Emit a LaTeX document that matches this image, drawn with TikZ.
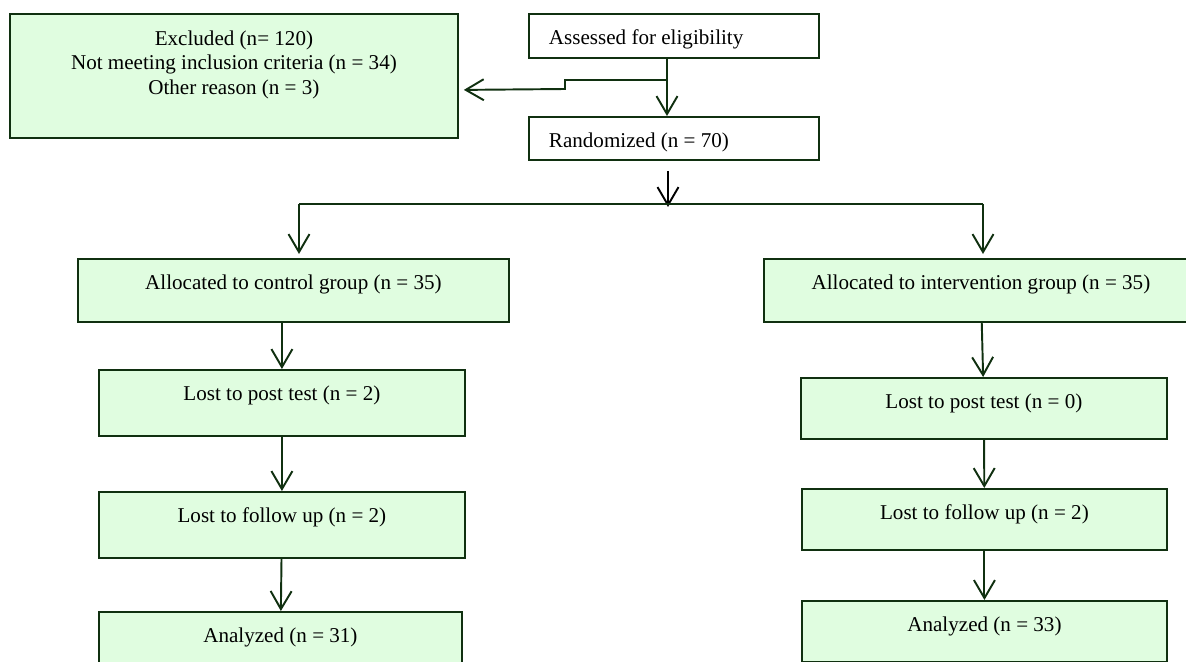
\documentclass[tikz,border=0pt]{standalone}
\usepackage{fontspec}
\setmainfont{Liberation Serif}
\usetikzlibrary{arrows.meta,calc}
\definecolor{FlowGreenPale}{RGB}{224,253,224}
\definecolor{FlowGreenDark}{RGB}{16,48,16}
\tikzset{
  caixa/.style={draw=FlowGreenDark, line width=1.1pt, inner ysep=0pt, text height=0.62cm,
                anchor=north west, font=\fontsize{12}{14}\selectfont},
  caixaverde/.style={caixa, fill=FlowGreenPale, align=center},
  caixabranca/.style={caixa, fill=white, align=flush left, text width=5.0cm, inner xsep=0.4cm,
                text depth=0.26cm},
  seta/.style={-{Straight Barb[length=3.6mm, width=4.2mm]}, line width=1.1pt, FlowGreenDark},
  setapreta/.style={seta, black},
  linha/.style={line width=0.8pt, FlowGreenDark},
}

\begin{document}
\begin{tikzpicture}[x=0.02cm, y=-0.02cm]
  \useasboundingbox (0,0) rectangle (1186,662);
  \clip (0,0) rectangle (1186,662);

  % ------------------------------------------------------------------ topo
  % tres linhas: a altura conta ate a ultima linha base
  \node[caixaverde, minimum width=8.96cm, text height=1.61cm, text depth=0.87cm] (excl) at (9,13)
    {Excluded (n= 120)\\Not meeting inclusion criteria (n = 34)\\Other reason (n = 3)};
  \node[caixabranca] (assess) at (528,13) {Assessed for eligibility};
  \node[caixabranca, text depth=0.24cm] (rand) at (528,116) {Randomized (n = 70)};
  \coordinate (split) at (667,80);
  \coordinate (fork) at (668,204);
  \coordinate (forkL) at (299,204);
  \coordinate (forkR) at (983,204);

  % ------------------------------------------------------------------ grupos
  \node[caixaverde, minimum width=8.62cm, text depth=0.64cm] (ctrl) at (77,258)
    {Allocated to control group (n = 35)};
  \node[caixaverde, minimum width=8.68cm, text depth=0.64cm] (intv) at (763,258)
    {Allocated to intervention group (n = 35)};

  \node[caixaverde, minimum width=7.32cm, text depth=0.70cm] (lostL) at (98,369)
    {Lost to post test (n = 2)};
  \node[caixaverde, minimum width=7.32cm, text depth=0.70cm] (followL) at (98,491)
    {Lost to follow up (n = 2)};
  \node[caixaverde, minimum width=7.26cm, text depth=0.70cm] (analL) at (98,611)
    {Analyzed (n = 31)};

  \node[caixaverde, minimum width=7.32cm, text depth=0.60cm] (lostR) at (800,377)
    {Lost to post test (n = 0)};
  \node[caixaverde, minimum width=7.30cm, text depth=0.60cm] (followR) at (801,488)
    {Lost to follow up (n = 2)};
  \node[caixaverde, minimum width=7.30cm, text depth=0.60cm] (analR) at (801,600)
    {Analyzed (n = 33)};

  % ------------------------------------------------------------------ setas
  \draw[seta] (assess.south -| split) -- (rand.north -| split);
  \draw[seta, shorten >=0.1cm] (split) -- ++(-102,0) -- ++(0,9) -- ($(excl.east)+(0,14)$);
  \draw[setapreta] ($(rand.south -| fork)+(0,10)$) -- ($(fork)+(0,3)$);
  \draw[linha] (forkL) -- (forkR);
  \draw[seta, shorten >=0.08cm] (forkL) -- (forkL |- ctrl.north);
  \draw[seta, shorten >=0.08cm] (forkR) -- (forkR |- intv.north);
  \draw[seta] (ctrl.south -| lostL.north) -- (lostL.north);
  \draw[seta] (lostL) -- (followL);
  \draw[seta] (followL) -- (analL);
  \draw[seta] (intv) -- (lostR);
  \draw[seta] (lostR) -- (followR);
  \draw[seta] (followR) -- (analR);
\end{tikzpicture}
\end{document}
